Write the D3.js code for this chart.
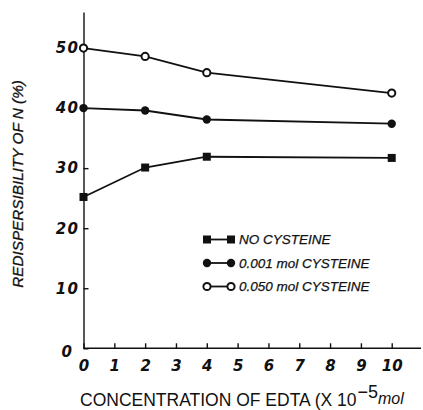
<!DOCTYPE html>
<html>
<head>
<meta charset="utf-8">
<script src="https://cdn.jsdelivr.net/npm/d3@7"></script>
<style>
    body { margin: 0; background: #fff; }
    svg { display: block; }
    .axis path, .axis line { stroke: #111; stroke-width: 1.4; }
    .axis text { font-family: "DejaVu Sans", sans-serif; font-weight: bold; font-style: italic; font-size: 15px; fill: #111; }
</style>
</head>
<body>
<div id="chart"></div>
<script>
// EDTA concentration (x 10^-5 mol)
const edta = [0, 2, 4, 10];
const noCysteine = [25.2, 30.1, 31.9, 31.7];
const cysteine001 = [40.0, 39.6, 38.1, 37.4];
const cysteine050 = [50.0, 48.6, 45.9, 42.5];

const xTicks = [0, 1, 2, 3, 4, 5, 6, 7, 8, 9, 10];
const yTicks = [0, 10, 20, 30, 40, 50];

const seriesNames = ["NO CYSTEINE", "0.001 mol CYSTEINE", "0.050 mol CYSTEINE"];
const seriesValues = [noCysteine, cysteine001, cysteine050];
const seriesMarkers = ["square", "dot", "ring"];

const width = 423, height = 410;

const svg = d3.select("#chart")
    .append("svg")
    .attr("width", width)
    .attr("height", height);

const x = d3.scaleLinear()
    .domain([0, 10.95])
    .range([83.5, 421]);

const y = d3.scaleLinear()
    .domain([0, 56])
    .range([348.3, 12]);

// axes, ticks pointing inward
svg.append("g")
    .attr("class", "axis axis-x")
    .attr("transform", `translate(0,${y(0)})`)
    .call(d3.axisBottom(x).tickValues(xTicks).tickSizeInner(-5).tickSizeOuter(0).tickPadding(12))
    .call(g => g.select(".domain").attr("d", `M${x(0)},0H${x.range()[1]}`));

svg.append("g")
    .attr("class", "axis axis-y")
    .attr("transform", `translate(${x(0)},0)`)
    .call(d3.axisLeft(y).tickValues(yTicks).tickSizeInner(-5).tickSizeOuter(0).tickPadding(4))
    .call(g => g.selectAll("text").attr("letter-spacing", "1.5px"))
    .call(g => g.selectAll(".tick").filter(d => d === 0).select("text").attr("x", -10).attr("dy", "0.55em"));

// axis titles
const xTitle = svg.append("text")
    .attr("x", 80)
    .attr("y", 406)
    .style("font-family", "'Liberation Sans', sans-serif")
    .style("font-size", "17.5px")
    .style("fill", "#111");
xTitle.append("tspan").text("CONCENTRATION OF EDTA (X 10");
xTitle.append("tspan").attr("dy", -8).attr("dx", 1).style("font-size", "18px").text("\u22125");
xTitle.append("tspan").attr("dy", 6).style("font-size", "16px").style("font-style", "italic").text("mol");

svg.append("text")
    .attr("transform", `translate(23,184) rotate(-90)`)
    .attr("text-anchor", "middle")
    .style("font-family", "'Liberation Sans', sans-serif")
    .style("font-style", "italic")
    .style("font-size", "15.3px")
    .style("stroke", "#111")
    .style("stroke-width", 0.3)
    .style("fill", "#111")
    .text("REDISPERSIBILITY OF N (%)");

// lines
const line = d3.line()
    .x((d, i) => x(edta[i]))
    .y(d => y(d));

function drawMarker(g, type, cx, cy) {
    if (type === "square") {
        g.append("rect")
            .attr("x", cx - 4).attr("y", cy - 4)
            .attr("width", 8).attr("height", 8)
            .attr("fill", "#111");
    } else if (type === "dot") {
        g.append("circle")
            .attr("cx", cx).attr("cy", cy).attr("r", 4.2)
            .attr("fill", "#111");
    } else {
        g.append("circle")
            .attr("cx", cx).attr("cy", cy).attr("r", 3.6)
            .attr("fill", "#fff")
            .attr("stroke", "#111")
            .attr("stroke-width", 2);
    }
}

seriesValues.forEach(function(values, s) {
    svg.append("path")
        .datum(values)
        .attr("fill", "none")
        .attr("stroke", "#111")
        .attr("stroke-width", 1.8)
        .attr("d", line);

    const marks = svg.append("g");
    values.forEach(function(v, i) {
        drawMarker(marks, seriesMarkers[s], x(edta[i]), y(v));
    });
});

// legend
const legendRows = [239.5, 263, 286.5];
const legend = svg.append("g");
seriesNames.forEach(function(name, s) {
    const ly = legendRows[s];
    legend.append("line")
        .attr("x1", 206).attr("x2", 231)
        .attr("y1", ly).attr("y2", ly)
        .attr("stroke", "#111")
        .attr("stroke-width", 1.8);
    drawMarker(legend, seriesMarkers[s], 207, ly);
    drawMarker(legend, seriesMarkers[s], 231, ly);
    legend.append("text")
        .attr("x", 239)
        .attr("y", ly)
        .attr("dy", "0.36em")
        .style("font-family", "'Liberation Sans', sans-serif")
        .style("font-style", "italic")
        .style("font-size", "13.5px")
        .style("stroke", "#111")
        .style("stroke-width", 0.25)
        .style("fill", "#111")
        .text(name);
});
</script>
</body>
</html>
